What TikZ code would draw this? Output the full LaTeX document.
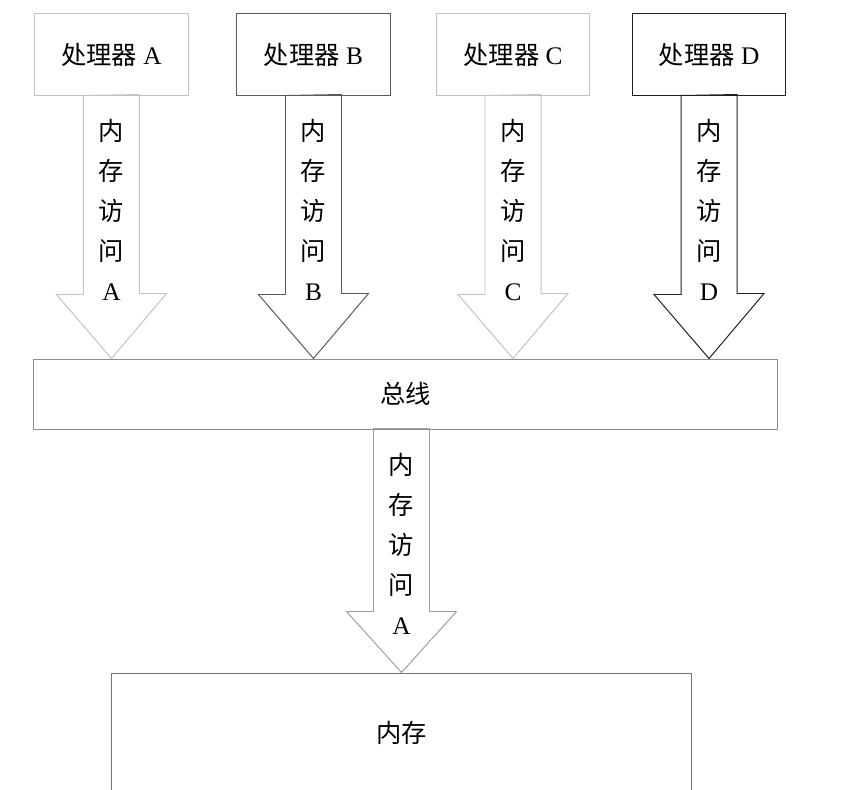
\documentclass[tikz,border=0pt]{standalone}
\usepackage{fontspec}
\setmainfont{Liberation Serif}
\newfontfamily\cjk{Noto Sans CJK SC}
\usetikzlibrary{positioning}
\definecolor{lightline}{gray}{0.76}
\definecolor{midline}{gray}{0.35}
\definecolor{darkline}{gray}{0.12}
\definecolor{busline}{gray}{0.55}
\definecolor{memline}{gray}{0.45}
\definecolor{arrline}{gray}{0.62}
\tikzset{
  procbox/.style={draw, line width=0.7pt, minimum width=3.825cm, minimum height=2.025cm, inner sep=0pt, font=\fontsize{18}{20}\selectfont},
  busbox/.style={draw=busline, line width=0.7pt, minimum width=18.575cm, minimum height=1.75cm, inner sep=0pt, font=\cjk\fontsize{18}{20}\selectfont},
  membox/.style={draw=memline, line width=0.7pt, minimum width=14.5cm, minimum height=3cm, inner sep=0pt, font=\cjk\fontsize{18}{20}\selectfont},
  vlabel/.style={align=center, inner sep=0pt, font=\cjk\fontsize{18}{28.45}\selectfont},
}
\begin{document}
\begin{tikzpicture}[x=0.025cm,y=-0.025cm]
\useasboundingbox (0,0) rectangle (854,789);
% processors
\node[procbox, draw=lightline] (pA) at (111.5,54.5) {{\cjk 处理器} A};
\node[procbox, draw=midline] (pB) at (313.5,54.5) {{\cjk 处理器} B};
\node[procbox, draw=lightline] (pC) at (513,54.5) {{\cjk 处理器} C};
\node[procbox, draw=darkline] (pD) at (709,54.5) {{\cjk 处理器} D};
% bus and memory
\node[busbox] (bus) at (405.5,394) {总线};
\node[membox] (mem) at (401.5,733) {内存};
% block arrows
\foreach \p/\c/\t in {pA/lightline/A, pB/midline/B, pC/lightline/C, pD/darkline/D}{
  \draw[\c, line width=0.7pt] (\p.south) ++(-28,0) -- ++(0,199) -- ++(-27,0) -- (\p.south |- bus.north) -- ++(55,-65) -- ++(-27,0) -- ++(0,-199) -- cycle;
  \path (\p.south) ++(0,114) node[vlabel] (l\t) {内\\存\\访\\问\\\rmfamily \t};
}
\draw[arrline, line width=0.7pt] (mem.north) -- ++(-55,-61) -- ++(27,0) -- ++(0,-183) -- ++(56,0) -- ++(0,183) -- ++(27,0) -- cycle;
\path (mem.north |- bus.south) ++(0,114) node[vlabel] (lM) {内\\存\\访\\问\\\rmfamily A};
\end{tikzpicture}
\end{document}
